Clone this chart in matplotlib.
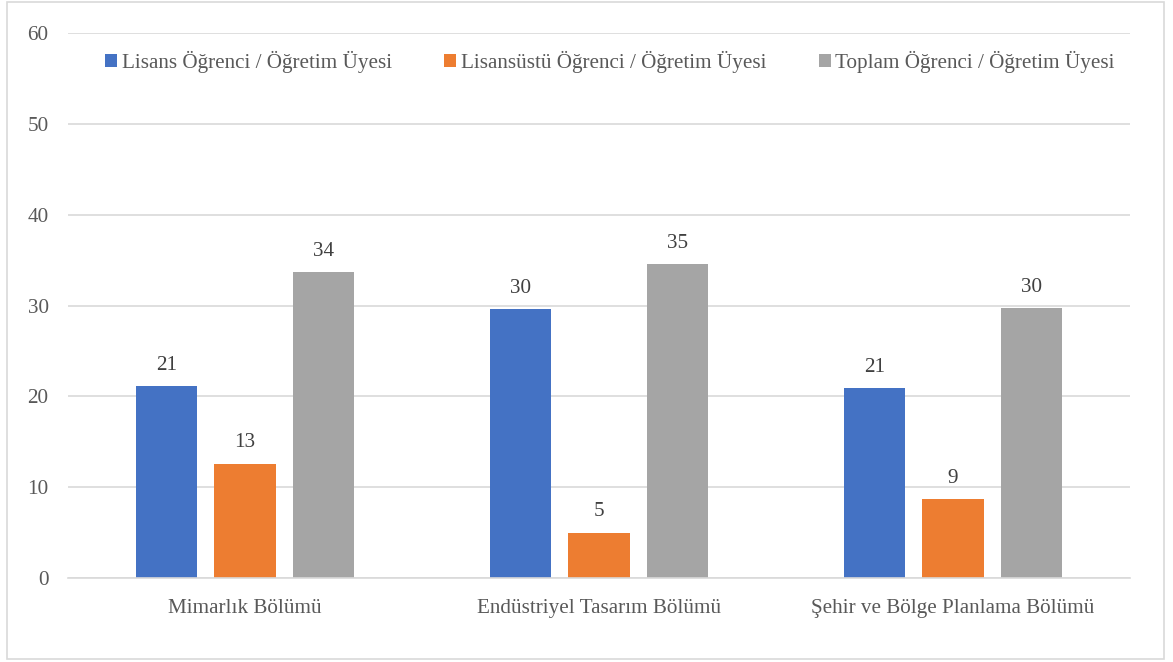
import matplotlib
matplotlib.use("Agg")
import matplotlib.pyplot as plt
import matplotlib.font_manager as fm
import numpy as np
from matplotlib.patches import Rectangle

categories = ["Mimarlık Bölümü", "Endüstriyel Tasarım Bölümü", "Şehir ve Bölge Planlama Bölümü"]
series_names = ["Lisans Öğrenci / Öğretim Üyesi", "Lisansüstü Öğrenci / Öğretim Üyesi", "Toplam Öğrenci / Öğretim Üyesi"]
lisans = [21.1, 29.6, 20.9]
lisansustu = [12.6, 5.0, 8.7]
toplam = [33.7, 34.6, 29.7]
yticks = [0, 10, 20, 30, 40, 50, 60]

colors = ["#4472C4", "#ED7D31", "#A5A5A5"]

serif_path = None
for f in fm.fontManager.ttflist:
    if f.fname.endswith("LiberationSerif-Regular.ttf"):
        serif_path = f.fname
        break
plt.rcParams['font.family'] = ['Liberation Serif', 'DejaVu Serif']

FS = 15.2


def fp(size):
    if serif_path:
        return fm.FontProperties(fname=serif_path, size=size)
    return fm.FontProperties(family="serif", size=size)


fig = plt.figure(figsize=(11.73, 6.62), dpi=100)
ax = fig.add_axes([0.058, 0.1269, 0.9053, 0.8231])

x = np.arange(len(categories))
width = 0.174
step = 0.222
all_series = [lisans, lisansustu, toplam]
for i, (vals, name, c) in enumerate(zip(all_series, series_names, colors)):
    bars = ax.bar(x + (i - 1) * step, vals, width, color=c, label=name, zorder=3)
    for b, v in zip(bars, vals):
        ax.annotate(f"{round(v):d}", (b.get_x() + b.get_width() / 2, v),
                    xytext=(0, 8), textcoords="offset points",
                    ha="center", va="bottom", fontproperties=fp(FS), color="#404040")

ax.set_xlim(-0.5, 2.5)
ax.set_ylim(0, 60)
ax.set_yticks(yticks)
ax.set_xticks(x)
ax.set_xticklabels(categories)
ax.tick_params(axis="both", length=0, colors="#595959")
ax.tick_params(axis="y", pad=14)
ax.tick_params(axis="x", pad=15)
for lab in ax.get_xticklabels() + ax.get_yticklabels():
    lab.set_fontproperties(fp(FS))
ax.yaxis.grid(True, color="#D9D9D9", linewidth=1.2, zorder=0)
for s in ["top", "right", "left"]:
    ax.spines[s].set_visible(False)
ax.spines["bottom"].set_color("#D9D9D9")
ax.spines["bottom"].set_linewidth(1.2)
ax.spines["bottom"].set_zorder(4)

leg = fig.legend(loc="center", bbox_to_anchor=(610 / 1173, 1 - 62 / 662), ncol=3, frameon=False,
                 prop=fp(FS), handlelength=0.57, handleheight=0.57, handletextpad=0.2,
                 columnspacing=2.5, labelcolor="#595959")

fig.patches.append(Rectangle((7 / 1173, 1 - 659 / 662), (1164 - 7) / 1173, (659 - 2) / 662,
                             transform=fig.transFigure, fill=False, edgecolor="#D9D9D9",
                             linewidth=1.2))

fig.savefig("out.png", dpi=100)
